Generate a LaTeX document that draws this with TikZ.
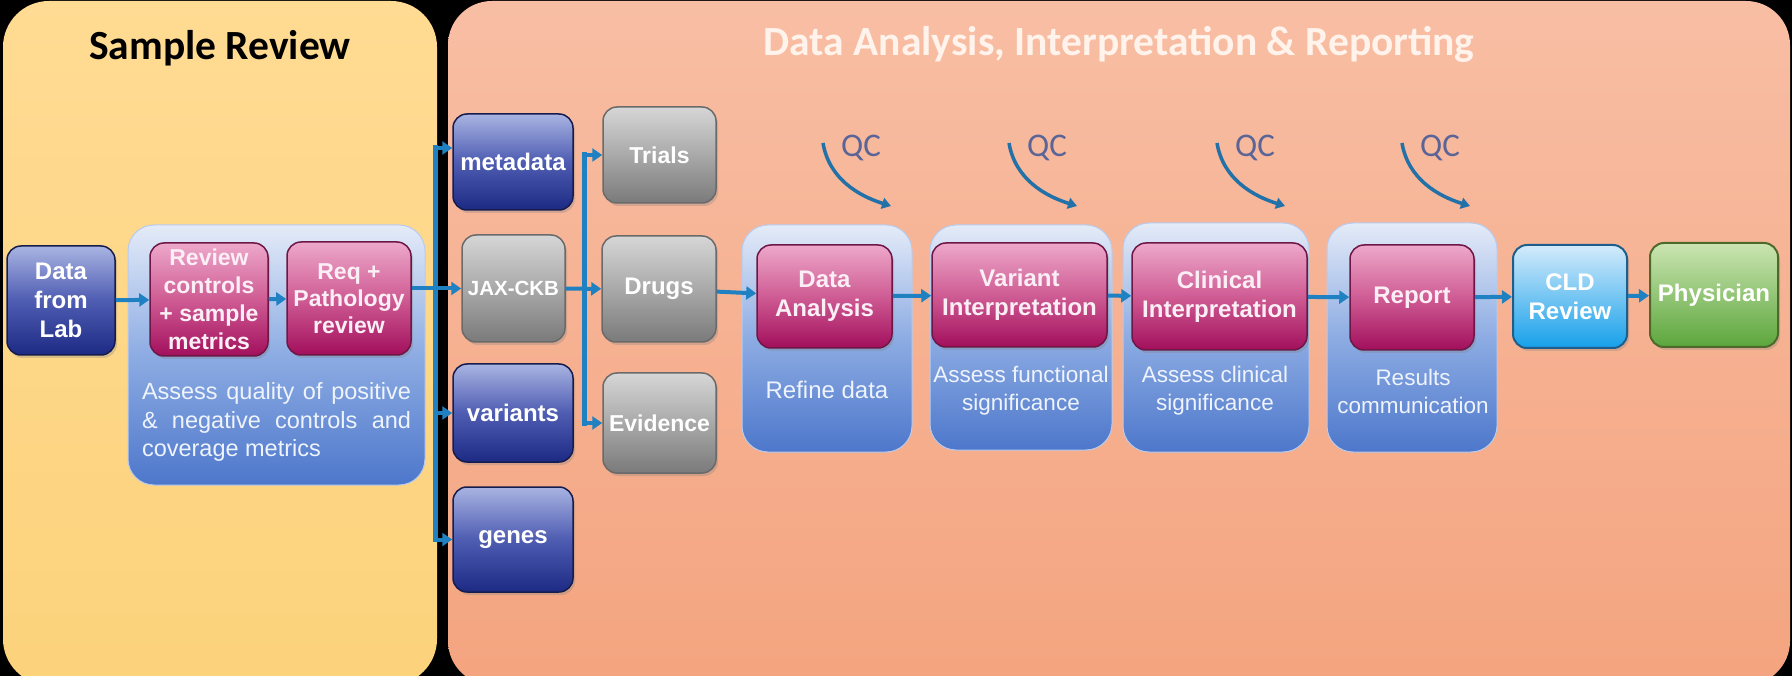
\documentclass[tikz,border=0pt]{standalone}
\usepackage{fontspec}
\setmainfont{Liberation Sans}
\newfontfamily\calib{Carlito}
\usetikzlibrary{arrows.meta,shadows}
\definecolor{yelT}{HTML}{FFDB93}
\definecolor{yelB}{HTML}{FCD27B}
\definecolor{orT}{HTML}{F8BEA4}
\definecolor{orB}{HTML}{F4A47F}
\definecolor{pinkT}{HTML}{EDA8CA}
\definecolor{pinkM}{HTML}{CF5C94}
\definecolor{pinkB}{HTML}{A20F5C}
\definecolor{pinkD}{HTML}{6E1646}
\definecolor{pinkW}{HTML}{FBEFF5}
\definecolor{dbT}{HTML}{A9B4E2}
\definecolor{dbM}{HTML}{4E5CB2}
\definecolor{dbB}{HTML}{1C2A84}
\definecolor{dbD}{HTML}{161C4E}
\definecolor{grT}{HTML}{D6D6D6}
\definecolor{grM}{HTML}{A9A9A9}
\definecolor{grB}{HTML}{7A7A7A}
\definecolor{grD}{HTML}{6A6A6A}
\definecolor{cldT}{HTML}{D4EBFB}
\definecolor{cldB}{HTML}{16A0EA}
\definecolor{cldD}{HTML}{1F5E8A}
\definecolor{phT}{HTML}{CBE5B2}
\definecolor{phB}{HTML}{5CA63C}
\definecolor{phD}{HTML}{4E6A2A}
\definecolor{cnT}{HTML}{E4EBF8}
\definecolor{cnM}{HTML}{8DACE3}
\definecolor{cnB}{HTML}{4D77CB}
\definecolor{arrowblue}{HTML}{1F80C2}
\definecolor{qcblue}{HTML}{2271A8}
\definecolor{qctext}{HTML}{5A6497}
\definecolor{descw}{HTML}{EEF3FC}
\definecolor{titlew}{HTML}{FFF3EC}
\tikzset{
  panel/.style={rounded corners=46pt, inner sep=0pt},
  container/.style={rounded corners=26pt, inner sep=0pt, top color=cnT, bottom color=cnB, middle color=cnM, draw=cnT!50!cnM, line width=1pt},
  box/.style={rounded corners=14pt, align=center, inner sep=0pt, line width=1.5pt,
    font=\bfseries\fontsize{24}{29}\selectfont,
    drop shadow={opacity=0.3, shadow xshift=2pt, shadow yshift=-3pt}},
  pinkbox/.style={box, draw=pinkD, top color=pinkT, bottom color=pinkB, middle color=pinkM, text=pinkW},
  darkbox/.style={box, draw=dbD, top color=dbT, bottom color=dbB, middle color=dbM, text=white},
  graybox/.style={box, draw=grD, top color=grT, bottom color=grB, middle color=grM, text=white},
  cldbox/.style={box, line width=2pt, draw=cldD, top color=cldT, bottom color=cldB, text=white},
  phybox/.style={box, line width=2pt, draw=phD, top color=phT, bottom color=phB, text=white},
  desc/.style={align=center, text=descw, inner sep=0pt, font=\fontsize{22.5}{28}\selectfont},
  qctxt/.style={text=qctext, inner sep=0pt, font=\calib\fontsize{33}{36}\selectfont},
  qcarc/.style={draw=qcblue, line width=3.5pt, -{Triangle[length=9pt,width=11pt]}},
  arr/.style={draw=arrowblue, line width=4pt, -{Triangle[length=10pt,width=13pt]}},
  busline/.style={draw=arrowblue, line width=5pt, line cap=rect},
}
\begin{document}
\begin{tikzpicture}[x=1pt,y=-1pt]
\useasboundingbox (0,0) rectangle (1792,676);
\fill[black] (0,0) rectangle (1792,676);
\clip (0,0) rectangle (1792,676);

% panels
\node[panel, top color=yelT, bottom color=yelB, minimum width=434pt, minimum height=684pt] (yel) at (220,343) {};
\node[panel, rounded corners=44pt, top color=orT, bottom color=orB, minimum width=1342pt, minimum height=684pt] (ora) at (1119,343) {};

% titles
\node[anchor=base, inner sep=0pt, text=black, font=\calib\bfseries\fontsize{41.5}{48}\selectfont] (t1) at (220,60) {Sample Review};
\node[anchor=base, inner sep=0pt, text=titlew, font=\calib\bfseries\fontsize{41.5}{48}\selectfont] (t2) at (1119,56) {Data Analysis, Interpretation \& Reporting};

% containers
\node[container, minimum width=297pt, minimum height=260pt] (csr) at (276.5,355) {};
\node[container, minimum width=170pt, minimum height=227pt] (cda) at (827,338.5) {};
\node[container, minimum width=182pt, minimum height=225pt] (cvi) at (1021,337.5) {};
\node[container, minimum width=186pt, minimum height=229pt] (cci) at (1216,337.5) {};
\node[container, minimum width=170pt, minimum height=229pt] (crp) at (1412,337.5) {};

% boxes
\node[darkbox, minimum width=108pt, minimum height=109pt] (lab) at (61,300.5) {Data\\from\\Lab};
\node[pinkbox, font=\bfseries\fontsize{23}{28}\selectfont, minimum width=118pt, minimum height=113pt] (rev) at (209,299.5) {Review\\controls\\+ sample\\metrics};
\node[pinkbox, font=\bfseries\fontsize{23}{27}\selectfont, minimum width=124pt, minimum height=113pt] (req) at (349,298.5) {Req +\\Pathology\\review};

\node[darkbox, minimum width=120pt, minimum height=96pt] (meta) at (513,162) {metadata};
\node[graybox, font=\bfseries\fontsize{20.5}{24}\selectfont, minimum width=103pt, minimum height=107pt] (jax) at (513.5,288.5) {JAX-CKB};
\node[darkbox, minimum width=120pt, minimum height=98pt] (var) at (513,413) {variants};
\node[darkbox, minimum width=120pt, minimum height=105pt] (genes) at (513,539.5) {genes};

\node[graybox, font=\bfseries\fontsize{23}{28}\selectfont, minimum width=113pt, minimum height=96pt] (trials) at (659.5,155) {Trials};
\node[graybox, minimum width=114pt, minimum height=106pt] (drugs) at (659,289) {Drugs};
\node[graybox, font=\bfseries\fontsize{23}{28}\selectfont, minimum width=113pt, minimum height=100pt] (evid) at (659.5,423) {Evidence};

\node[pinkbox, minimum width=135pt, minimum height=103pt] (da) at (824.5,296.5) {Data\\Analysis};
\node[pinkbox, minimum width=175pt, minimum height=104pt] (vi) at (1019.5,295) {Variant\\Interpretation};
\node[pinkbox, minimum width=175pt, minimum height=107pt] (ci) at (1219.5,296.5) {Clinical\\Interpretation};
\node[pinkbox, minimum width=124pt, minimum height=105pt] (rp) at (1412,297.5) {Report};
\node[cldbox, minimum width=114pt, minimum height=103pt] (cld) at (1570,296.5) {CLD\\Review};
\node[phybox, minimum width=128pt, minimum height=104pt] (phy) at (1714,295) {Physician};

% descriptions
\node[desc, font=\fontsize{23.5}{28.5}\selectfont, align=left] (srd) at (276.5,422) {\makebox[269pt][s]{Assess quality of positive}\\\makebox[269pt][s]{\& negative controls and}\\coverage metrics};
\node[desc, font=\fontsize{24}{28}\selectfont] (dad) at (827,390) {Refine data};
\node[desc] (vid) at (1021,391) {Assess functional\\significance};
\node[desc] (cid) at (1215,391) {Assess clinical\\significance};
\node[desc] (rpd) at (1413,391) {Results\\communication};

% QC marks
\foreach \n/\x in {1/861,2/1047,3/1255,4/1440}{
  \node[qctxt] (qc\n) at (\x,148) {QC};
  \coordinate (qs\n) at (\x-38,143);
  \coordinate (qe\n) at (\x+30,206);
  \draw[qcarc] (qs\n) .. controls +(6,36) and +(-32,-10) .. (qe\n);
}

% connectors
\coordinate (bt) at (435,148);
\coordinate (bb) at (435,539.5);
\coordinate (br) at (584,289);
\draw[arr] (lab) -- (rev);
\draw[arr] (rev) -- (req);
\draw[busline] (bt) -- (bb);
\draw[arr] (req.east |- jax.west) -- (jax.west);
\draw[arr] (bt) -- ([yshift=14pt]meta.west);
\draw[arr] (bb |- var.west) -- (var.west);
\draw[arr] (bb) -- (genes.west);
\draw[busline] (br |- trials.west) -- (br |- evid.west);
\draw[arr] (jax) -- (drugs);
\draw[arr] (br |- trials.west) -- (trials.west);
\draw[arr] (br |- evid.west) -- (evid.west);
\draw[arr] (drugs) -- (da);
\draw[arr] (da) -- (vi);
\draw[arr] (vi) -- (ci);
\draw[arr] (ci) -- (rp);
\draw[arr] (rp) -- (cld);
\draw[arr] (cld) -- (phy);
\end{tikzpicture}
\end{document}
